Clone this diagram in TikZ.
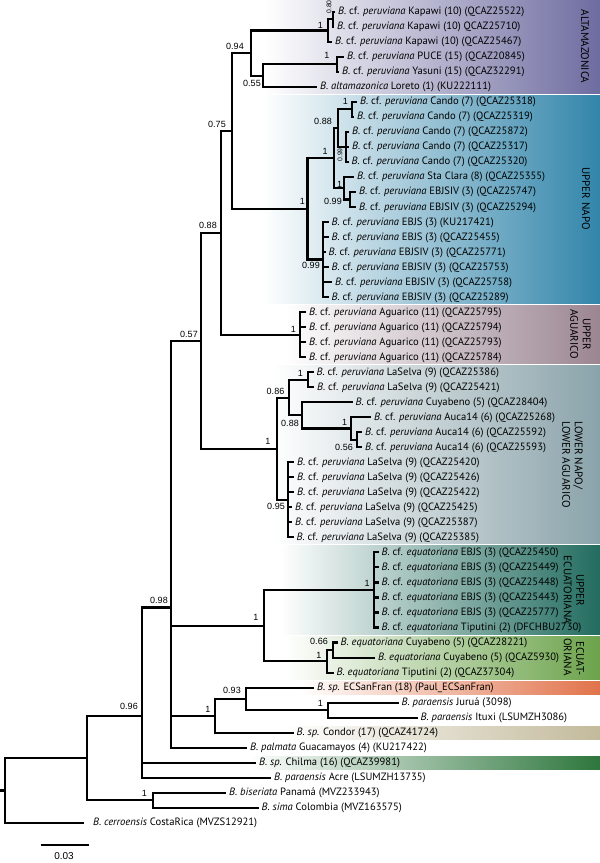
\documentclass[tikz,border=0pt]{standalone}
\usepackage{fontspec}
\setmainfont{PT Sans}
\newfontfamily\suppfont{Liberation Sans}

\definecolor{altacol}{RGB}{110,108,160}
\definecolor{napocol}{RGB}{50,133,170}
\definecolor{aguacol}{RGB}{155,133,145}
\definecolor{lowcol}{RGB}{138,163,170}
\definecolor{ecuacol}{RGB}{35,108,95}
\definecolor{oriacol}{RGB}{108,163,75}
\definecolor{sanfcol}{RGB}{225,115,75}
\definecolor{condcol}{RGB}{195,186,155}
\definecolor{chilcol}{RGB}{45,118,60}

\newcommand{\cfp}[1]{\textit{B.} cf. \textit{#1}}
\newcommand{\taxon}[1]{\textit{B. #1}}

\tikzset{
  branch/.style={line width=2.1pt},
  tip/.style={anchor=west, inner xsep=3pt, inner ysep=0pt, text height=1.6ex, text depth=.4ex, font=\fontsize{10.6}{12}\selectfont},
  supp/.style={inner sep=0pt, font=\suppfont\fontsize{9}{10}\selectfont},
  suppsmall/.style={inner sep=0pt, rotate=90, font=\suppfont\fontsize{6.8}{7}\selectfont},
  grp/.style={inner sep=0pt, rotate=-90, font=\fontsize{11}{12.5}\selectfont, align=center}
}

\begin{document}
\begin{tikzpicture}[x=1pt,y=-1pt]
\useasboundingbox (0,0) rectangle (600,863);

% clade bands
\shade[left color=white, right color=altacol] (265,0) rectangle (600,93.3);
\shade[left color=white, right color=napocol] (262,95.3) rectangle (600,303.6);
\shade[left color=white, right color=aguacol] (285,305.6) rectangle (600,363.7);
\shade[left color=white, right color=lowcol] (272,365.7) rectangle (600,543.9);
\shade[left color=white, right color=ecuacol] (280,545.9) rectangle (600,634);
\shade[left color=white, right color=oriacol] (285,636) rectangle (600,679.1);
\shade[left color=white, right color=sanfcol] (300,681.1) rectangle (600,694.1);
\shade[left color=white, right color=condcol] (285,726.2) rectangle (600,739.2);
\shade[left color=white, right color=chilcol] (250,756.2) rectangle (600,769.2);

\node[grp] (gAlta) at (585,46.5) {ALTAMAZONICA};
\node[grp] (gNapo) at (586,198.5) {UPPER NAPO};
\node[grp] (gAgua) at (580.5,334) {UPPER\\AGUARICO};
\node[grp, align=left, anchor=west] (gLow) at (572.5,421) {LOWER NAPO/\\LOWER AGUARICO};
\node[grp] (gEcua) at (574,590) {UPPER\\ECUATORIANA};
\node[grp, align=right, anchor=east] (gOria) at (574,676) {ECUAT-\\ORIANA};

% tips
\node[tip] (t00) at (335,11.7) {\cfp{peruviana} Kapawi (10) (QCAZ25522)};
\node[tip] (t01) at (334,26.7) {\cfp{peruviana} Kapawi (10) QCAZ25710)};
\node[tip] (t02) at (332,41.7) {\cfp{peruviana} Kapawi (10) (QCAZ25467)};
\node[tip] (t03) at (344,56.8) {\cfp{peruviana} PUCE (15) (QCAZ20845)};
\node[tip] (t04) at (339,71.8) {\cfp{peruviana} Yasuni (15) (QCAZ32291)};
\node[tip] (t05) at (317,86.8) {\taxon{altamazonica} Loreto (1) (KU222111)};
\node[tip] (t06) at (357,101.8) {\cfp{peruviana} Cando (7) (QCAZ25318)};
\node[tip] (t07) at (354,116.8) {\cfp{peruviana} Cando (7) (QCAZ25319)};
\node[tip] (t08) at (349,131.9) {\cfp{peruviana} Cando (7) (QCAZ25872)};
\node[tip] (t09) at (349,146.9) {\cfp{peruviana} Cando (7) (QCAZ25317)};
\node[tip] (t10) at (348.5,161.9) {\cfp{peruviana} Cando (7) (QCAZ25320)};
\node[tip] (t11) at (354,176.9) {\cfp{peruviana} Sta Clara (8) (QCAZ25355)};
\node[tip] (t12) at (356,191.9) {\cfp{peruviana} EBJSIV (3) (QCAZ25747)};
\node[tip] (t13) at (356,207.0) {\cfp{peruviana} EBJSIV (3) (QCAZ25294)};
\node[tip] (t14) at (328.5,222.0) {\cfp{peruviana} EBJS (3) (KU217421)};
\node[tip] (t15) at (328.5,237.0) {\cfp{peruviana} EBJS (3) (QCAZ25455)};
\node[tip] (t16) at (325.5,252.0) {\cfp{peruviana} EBJSIV (3) (QCAZ25771)};
\node[tip] (t17) at (328.5,267.0) {\cfp{peruviana} EBJSIV (3) (QCAZ25753)};
\node[tip] (t18) at (332,282.1) {\cfp{peruviana} EBJSIV (3) (QCAZ25758)};
\node[tip] (t19) at (328.5,297.1) {\cfp{peruviana} EBJSIV (3) (QCAZ25289)};
\node[tip] (t20) at (306,312.1) {\cfp{peruviana} Aguarico (11) (QCAZ25795)};
\node[tip] (t21) at (306,327.1) {\cfp{peruviana} Aguarico (11) (QCAZ25794)};
\node[tip] (t22) at (306,342.1) {\cfp{peruviana} Aguarico (11) (QCAZ25793)};
\node[tip] (t23) at (306,357.2) {\cfp{peruviana} Aguarico (11) (QCAZ25784)};
\node[tip] (t24) at (313.5,372.2) {\cfp{peruviana} LaSelva (9) (QCAZ25386)};
\node[tip] (t25) at (314,387.2) {\cfp{peruviana} LaSelva (9) (QCAZ25421)};
\node[tip] (t26) at (352.5,402.2) {\cfp{peruviana} Cuyabeno (5) (QCAZ28404)};
\node[tip] (t27) at (371,417.2) {\cfp{peruviana} Auca14 (6) (QCAZ25268)};
\node[tip] (t28) at (362,432.3) {\cfp{peruviana} Auca14 (6) (QCAZ25592)};
\node[tip] (t29) at (362,447.3) {\cfp{peruviana} Auca14 (6) (QCAZ25593)};
\node[tip] (t30) at (294,462.3) {\cfp{peruviana} LaSelva (9) (QCAZ25420)};
\node[tip] (t31) at (294,477.3) {\cfp{peruviana} LaSelva (9) (QCAZ25426)};
\node[tip] (t32) at (294,492.3) {\cfp{peruviana} LaSelva (9) (QCAZ25422)};
\node[tip] (t33) at (292,507.4) {\cfp{peruviana} LaSelva (9) (QCAZ25425)};
\node[tip] (t34) at (292,522.4) {\cfp{peruviana} LaSelva (9) (QCAZ25387)};
\node[tip] (t35) at (293.5,537.4) {\cfp{peruviana} LaSelva (9) (QCAZ25385)};
\node[tip] (t36) at (378.5,552.4) {\cfp{equatoriana} EBJS (3) (QCAZ25450)};
\node[tip] (t37) at (378.5,567.4) {\cfp{equatoriana} EBJS (3) (QCAZ25449)};
\node[tip] (t38) at (378.5,582.5) {\cfp{equatoriana} EBJS (3) (QCAZ25448)};
\node[tip] (t39) at (378.5,597.5) {\cfp{equatoriana} EBJS (3) (QCAZ25443)};
\node[tip] (t40) at (378.5,612.5) {\cfp{equatoriana} EBJS (3) (QCAZ25777)};
\node[tip] (t41) at (378.5,627.5) {\cfp{equatoriana} Tiputini (2) (DFCHBU2730)};
\node[tip] (t42) at (337.5,642.5) {\taxon{equatoriana} Cuyabeno (5) (QCAZ28221)};
\node[tip] (t43) at (375,657.6) {\taxon{equatoriana} Cuyabeno (5) (QCAZ5930)};
\node[tip] (t44) at (333.5,672.6) {\taxon{equatoriana} Tiputini (2) (QCAZ37304)};
\node[tip] (t45) at (314,687.6) {\taxon{sp.} ECSanFran (18) (Paul\_ECSanFran)};
\node[tip] (t46) at (398.5,702.6) {\taxon{paraensis} Juruá (3098)};
\node[tip] (t47) at (417.5,717.6) {\taxon{paraensis} Ituxi (LSUMZH3086)};
\node[tip] (t48) at (293.5,732.7) {\taxon{sp.} Condor (17) (QCAZ41724)};
\node[tip] (t49) at (247,747.7) {\taxon{palmata} Guacamayos (4) (KU217422)};
\node[tip] (t50) at (256,762.7) {\taxon{sp.} Chilma (16) (QCAZ39981)};
\node[tip] (t51) at (271,777.7) {\taxon{paraensis} Acre (LSUMZH13735)};
\node[tip] (t52) at (226,792.7) {\taxon{biseriata} Panamá (MVZ233943)};
\node[tip] (t53) at (258.5,807.8) {\taxon{sima} Colombia (MVZ163575)};
\node[tip, inner xsep=9pt] (t54) at (84,822.8) {\taxon{cerroensis} CostaRica (MVZS12921)};

% internal nodes
\coordinate (n080) at (332.7,19.2);
\coordinate (nK3) at (327.7,30.45);
\coordinate (nPY) at (337,64.3);
\coordinate (n055) at (263.3,75.55);
\coordinate (n094) at (250.7,53);
\coordinate (nCP) at (352,109.3);
\coordinate (nC3) at (346,146.9);
\coordinate (n088c) at (338,128.1);
\coordinate (nEJ) at (350,199.45);
\coordinate (nSC) at (344,188.2);
\coordinate (nIN) at (334,158.1);
\coordinate (nEB) at (323,259.5);
\coordinate (nUN) at (307.5,208.8);
\coordinate (n075) at (231.7,130.9);
\coordinate (nUA) at (300,334.6);
\coordinate (n088) at (220.7,232.8);
\coordinate (nLP) at (308,379.7);
\coordinate (nAP) at (357,439.8);
\coordinate (nA1) at (351,428.5);
\coordinate (n088l) at (301.7,415.4);
\coordinate (n086) at (289,397.6);
\coordinate (n095) at (288.3,499.85);
\coordinate (nLN) at (276.7,448.7);
\coordinate (n057) at (201,340.8);
\coordinate (nUE) at (374,590);
\coordinate (n066) at (332.7,650.05);
\coordinate (nEO) at (326.7,661.3);
\coordinate (nEC) at (264.3,625.7);
\coordinate (nJI) at (328.4,710.1);
\coordinate (n093) at (246,699.1);
\coordinate (nSP) at (215,715.9);
\coordinate (n098) at (171.3,607.5);
\coordinate (n096) at (141.7,716);
\coordinate (nBS) at (152.7,800.25);
\coordinate (nIG) at (87.3,758.1);
\coordinate (root) at (4.7,790.5);
\coordinate (rootstub) at (0,790.5);

% branches
\draw[branch] (n080) |- (t00.west) (n080) |- (t01.west);
\draw[branch] (nK3) |- (n080) (nK3) |- (t02.west);
\draw[branch] (nPY) |- (t03.west) (nPY) |- (t04.west);
\draw[branch] (n055) |- (nPY) (n055) |- (t05.west);
\draw[branch] (n094) |- (nK3) (n094) |- (n055);
\draw[branch] (nCP) |- (t06.west) (nCP) |- (t07.west);
\draw[branch] (nC3) |- (t08.west) (nC3) |- (t09.west) (nC3) |- (t10.west);
\draw[branch] (n088c) |- (nCP) (n088c) |- (nC3);
\draw[branch] (nEJ) |- (t12.west) (nEJ) |- (t13.west);
\draw[branch] (nSC) |- (t11.west) (nSC) |- (nEJ);
\draw[branch] (nIN) |- (n088c) (nIN) |- (nSC);
\draw[branch] (nEB) |- (t14.west) (nEB) |- (t15.west) (nEB) |- (t16.west)
  (nEB) |- (t17.west) (nEB) |- (t18.west) (nEB) |- (t19.west);
\draw[branch] (nUN) |- (nIN) (nUN) |- (nEB);
\draw[branch] (n075) |- (n094) (n075) |- (nUN);
\draw[branch] (nUA) |- (t20.west) (nUA) |- (t21.west) (nUA) |- (t22.west) (nUA) |- (t23.west);
\draw[branch] (n088) |- (n075) (n088) |- (nUA);
\draw[branch] (nLP) |- (t24.west) (nLP) |- (t25.west);
\draw[branch] (nAP) |- (t28.west) (nAP) |- (t29.west);
\draw[branch] (nA1) |- (t27.west) (nA1) |- (nAP);
\draw[branch] (n088l) |- (t26.west) (n088l) |- (nA1);
\draw[branch] (n086) |- (nLP) (n086) |- (n088l);
\draw[branch] (n095) |- (t30.west) (n095) |- (t31.west) (n095) |- (t32.west)
  (n095) |- (t33.west) (n095) |- (t34.west) (n095) |- (t35.west);
\draw[branch] (nLN) |- (n086) (nLN) |- (n095);
\draw[branch] (n057) |- (n088) (n057) |- (nLN);
\draw[branch] (nUE) |- (t36.west) (nUE) |- (t37.west) (nUE) |- (t38.west)
  (nUE) |- (t39.west) (nUE) |- (t40.west) (nUE) |- (t41.west);
\draw[branch] (n066) |- (t42.west) (n066) |- (t43.west);
\draw[branch] (nEO) |- (n066) (nEO) |- (t44.west);
\draw[branch] (nEC) |- (nUE) (nEC) |- (nEO);
\draw[branch] (nJI) |- (t46.west) (nJI) |- (t47.west);
\draw[branch] (n093) |- (t45.west) (n093) |- (nJI);
\draw[branch] (nSP) |- (n093) (nSP) |- (t48.west);
\draw[branch] (n098) |- (n057) (n098) |- (nEC) (n098) |- (nSP) (n098) |- (t49.west);
\draw[branch] (n096) |- (n098) (n096) |- (t50.west) (n096) |- (t51.west);
\draw[branch] (nBS) |- (t52.west) (nBS) |- (t53.west);
\draw[branch] (nIG) |- (n096) (nIG) |- (nBS);
\draw[branch] (root) |- (nIG) (root) |- (t54.west);
\draw[branch] (rootstub) -- (root);

% support values
\node[suppsmall] (s080) at (329,7) {0.80};
\node[supp] (sK3) at (320.5,25) {1};
\node[supp] (s094) at (235,46.5) {0.94};
\node[supp] (sPY) at (327,55) {1};
\node[supp] (s055) at (252,83) {0.55};
\node[supp] (s075) at (217,124) {0.75};
\node[supp] (sCP) at (345.5,101) {1};
\node[supp] (s088c) at (323,121.5) {0.88};
\node[suppsmall] (sC3) at (340,155) {0.99};
\node[supp] (sIN) at (325,151.5) {1};
\node[supp] (sSC) at (339.5,184.5) {1};
\node[supp] (sEJ) at (333,201) {0.99};
\node[supp] (sUN) at (302.5,201.5) {1};
\node[supp] (sEB) at (311,265) {0.99};
\node[supp] (s088) at (208,225) {0.88};
\node[supp] (s057) at (189,334) {0.57};
\node[supp] (sUA) at (293.5,329) {1};
\node[supp] (sLP) at (300.5,373.5) {1};
\node[supp] (s086) at (275.5,391.5) {0.86};
\node[supp] (s088l) at (290,423) {0.88};
\node[supp] (sA1) at (344.5,422) {1};
\node[supp] (sAP) at (344,447.5) {0.56};
\node[supp] (sLN) at (268,441.5) {1};
\node[supp] (s095) at (276,506.5) {0.95};
\node[supp] (sUE) at (367,583.7) {1};
\node[supp] (sEC) at (256,617.6) {1};
\node[supp] (s066) at (319,641) {0.66};
\node[supp] (sEO) at (319,655) {1};
\node[supp] (s098) at (159,600) {0.98};
\node[supp] (s093) at (232,690) {0.93};
\node[supp] (sSP) at (208,709) {1};
\node[supp] (sJI) at (320.5,703) {1};
\node[supp] (s096) at (129,706.7) {0.96};
\node[supp] (sBS) at (144.5,793) {1};

% scale bar
\coordinate (sb1) at (40.6,845);
\coordinate (sb2) at (88.6,845);
\draw[branch] (sb1) -- (sb2);
\node[supp, font=\suppfont\fontsize{10}{11}\selectfont] (sbl) at (64,856) {0.03};
\end{tikzpicture}
\end{document}
